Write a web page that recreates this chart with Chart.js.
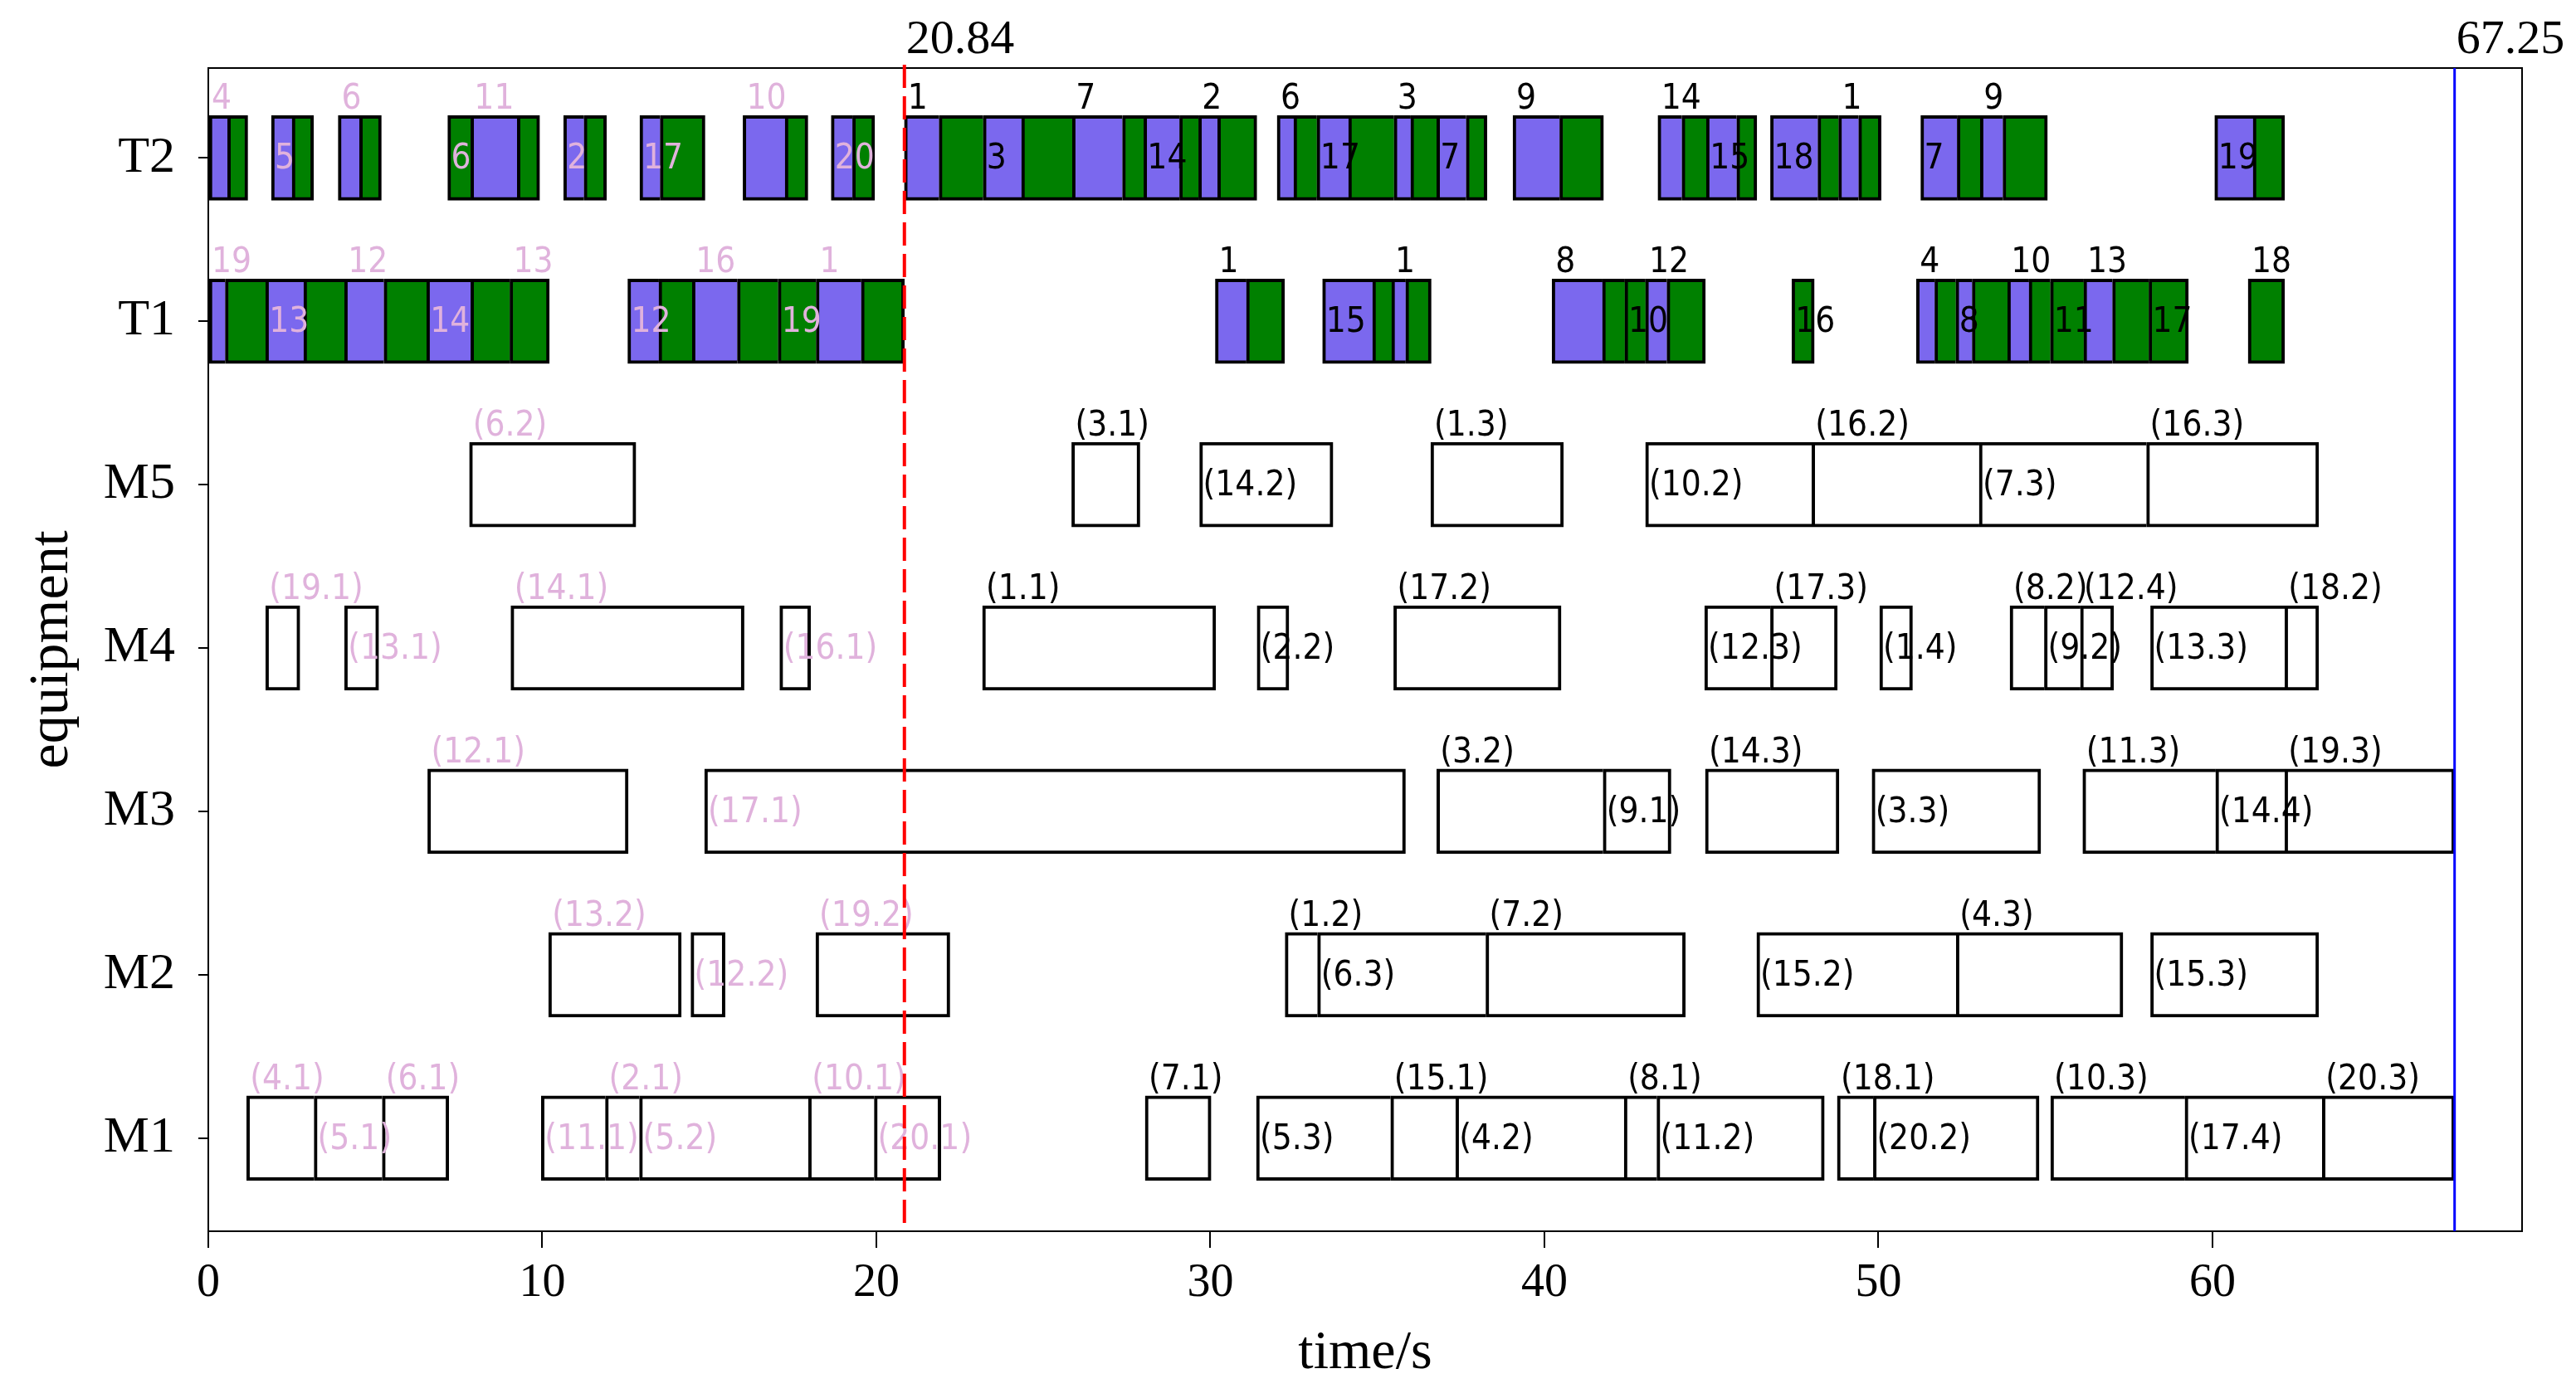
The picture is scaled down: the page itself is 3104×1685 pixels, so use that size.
<!DOCTYPE html>
<html>
<head>
<meta charset="utf-8">
<script src="https://cdn.jsdelivr.net/npm/chart.js@4.4.1/dist/chart.umd.min.js"></script>
<style>
  html, body { margin: 0; padding: 0; background: #fff; }
  canvas { display: block; }
</style>
</head>
<body>
<canvas id="c" width="3104" height="1685"></canvas>
<script>
// ---------------- DATA ----------------
const CUT = 20.84;        // rescheduling moment (red dashed line)
const MAKESPAN = 67.25;   // completion time (blue line)
const X_MAX = 69.27;
const rows = ['M1', 'M2', 'M3', 'M4', 'M5', 'T1', 'T2'];   // y index 0..6
const xTicks = [0, 10, 20, 30, 40, 50, 60];

// Transport rows: [start, end, kind]  P = loaded (purple), G = empty move (green)
const t2Bars = [
  [0, 0.58, 'P'], [0.58, 1.18, 'G'],
  [1.89, 2.51, 'P'], [2.51, 3.15, 'G'],
  [3.89, 4.53, 'P'], [4.53, 5.18, 'G'],
  [7.17, 7.86, 'G'], [7.86, 9.25, 'P'], [9.25, 9.92, 'G'],
  [10.64, 11.25, 'P'], [11.25, 11.92, 'G'],
  [12.92, 13.53, 'P'], [13.53, 14.87, 'G'],
  [16.01, 17.27, 'P'], [17.27, 17.95, 'G'],
  [18.65, 19.29, 'P'], [19.29, 19.95, 'G'],
  [20.84, 21.88, 'P'], [21.88, 23.20, 'G'], [23.20, 24.35, 'P'], [24.35, 25.87, 'G'],
  [25.87, 27.37, 'P'], [27.37, 28.01, 'G'], [28.01, 29.08, 'P'], [29.08, 29.65, 'G'],
  [29.65, 30.22, 'P'], [30.22, 31.39, 'G'],
  [32.00, 32.50, 'P'], [32.50, 33.19, 'G'], [33.19, 34.14, 'P'], [34.14, 35.50, 'G'],
  [35.50, 36.00, 'P'], [36.00, 36.78, 'G'], [36.78, 37.66, 'P'], [37.66, 38.28, 'G'],
  [39.06, 40.46, 'P'], [40.46, 41.77, 'G'],
  [43.40, 44.12, 'P'], [44.12, 44.85, 'G'], [44.85, 45.76, 'P'], [45.76, 46.36, 'G'],
  [46.77, 48.19, 'P'], [48.19, 48.81, 'G'], [48.81, 49.41, 'P'], [49.41, 50.08, 'G'],
  [51.27, 52.36, 'P'], [52.36, 53.05, 'G'], [53.05, 53.73, 'P'], [53.73, 55.06, 'G'],
  [60.07, 61.22, 'P'], [61.22, 62.16, 'G']
];
const t2TopTags = [[0, '4'], [3.89, '6'], [7.86, '11'], [16.01, '10'], [20.84, '1'], [25.87, '7'],
  [29.65, '2'], [32.00, '6'], [35.50, '3'], [39.06, '9'], [43.40, '14'], [48.81, '1'], [53.05, '9']];
const t2InTags = [[1.89, '5'], [7.17, '6'], [10.64, '2'], [12.92, '17'], [18.65, '20'], [23.20, '3'],
  [28.01, '14'], [33.19, '17'], [36.78, '7'], [44.85, '15'], [46.77, '18'], [51.27, '7'], [60.07, '19']];

const t1Bars = [
  [0, 0.51, 'P'], [0.51, 1.72, 'G'], [1.72, 2.86, 'P'], [2.86, 4.08, 'G'], [4.08, 5.26, 'P'],
  [5.26, 6.54, 'G'], [6.54, 7.86, 'P'], [7.86, 9.03, 'G'], [9.03, 10.21, 'G'],
  [12.56, 13.49, 'P'], [13.49, 14.49, 'G'], [14.49, 15.84, 'P'], [15.84, 17.06, 'G'],
  [17.06, 18.20, 'G'], [18.20, 19.55, 'P'], [19.55, 20.84, 'G'],
  [30.15, 31.08, 'P'], [31.08, 32.22, 'G'],
  [33.36, 34.86, 'P'], [34.86, 35.43, 'G'], [35.43, 35.85, 'P'], [35.85, 36.61, 'G'],
  [40.23, 41.74, 'P'], [41.74, 42.41, 'G'], [42.41, 43.03, 'G'], [43.03, 43.67, 'P'], [43.67, 44.82, 'G'],
  [47.41, 48.08, 'G'],
  [51.14, 51.69, 'P'], [51.69, 52.32, 'G'], [52.32, 52.81, 'P'], [52.81, 53.87, 'G'],
  [53.87, 54.51, 'P'], [54.51, 55.15, 'G'], [55.15, 56.15, 'G'], [56.15, 57.01, 'P'],
  [57.01, 58.10, 'G'], [58.10, 59.28, 'G'],
  [61.07, 62.16, 'G']
];
const t1TopTags = [[0, '19'], [4.08, '12'], [9.03, '13'], [14.49, '16'], [18.20, '1'], [30.15, '1'],
  [35.43, '1'], [40.23, '8'], [43.03, '12'], [51.14, '4'], [53.87, '10'], [56.15, '13'], [61.07, '18']];
const t1InTags = [[1.72, '13'], [6.54, '14'], [12.56, '12'], [17.06, '19'], [33.36, '15'],
  [42.41, '10'], [47.41, '16'], [52.32, '8'], [55.15, '11'], [58.10, '17']];

// Machine rows: [start, end, operation]
const m5Ops = [[7.82, 12.80, '(6.2)'], [25.85, 27.89, '(3.1)'], [29.68, 33.67, '(14.2)'],
  [36.60, 40.57, '(1.3)'], [43.03, 48.01, '(10.2)'], [48.01, 53.02, '(16.2)'],
  [53.02, 58.03, '(7.3)'], [58.03, 63.18, '(16.3)']];
const m5Inside = ['(14.2)', '(10.2)', '(7.3)'];

const m4Ops = [[1.72, 2.74, '(19.1)'], [4.08, 5.10, '(13.1)'], [9.06, 16.04, '(14.1)'],
  [17.11, 18.03, '(16.1)'], [23.18, 30.16, '(1.1)'], [31.40, 32.35, '(2.2)'],
  [35.49, 40.50, '(17.2)'], [44.80, 46.77, '(12.3)'], [46.77, 48.77, '(17.3)'],
  [50.04, 51.02, '(1.4)'], [53.94, 54.97, '(8.2)'], [54.97, 56.05, '(9.2)'],
  [56.05, 57.04, '(12.4)'], [58.15, 62.17, '(13.3)'], [62.17, 63.18, '(18.2)']];
const m4Inside = ['(13.1)', '(16.1)', '(2.2)', '(12.3)', '(1.4)', '(9.2)', '(13.3)'];

const m3Ops = [[6.57, 12.57, '(12.1)'], [14.86, 35.84, '(17.1)'], [36.78, 41.76, '(3.2)'],
  [41.76, 43.79, '(9.1)'], [44.82, 48.82, '(14.3)'], [49.81, 54.86, '(3.3)'],
  [56.12, 60.10, '(11.3)'], [60.10, 62.17, '(14.4)'], [62.17, 67.25, '(19.3)']];
const m3Inside = ['(17.1)', '(9.1)', '(3.3)', '(14.4)'];

const m2Ops = [[10.19, 14.16, '(13.2)'], [14.45, 15.47, '(12.2)'], [18.19, 22.20, '(19.2)'],
  [32.24, 33.21, '(1.2)'], [33.21, 38.25, '(6.3)'], [38.25, 44.22, '(7.2)'],
  [46.36, 52.33, '(15.2)'], [52.33, 57.32, '(4.3)'], [58.15, 63.18, '(15.3)']];
const m2Inside = ['(12.2)', '(6.3)', '(15.2)', '(15.3)'];

const m1Ops = [[1.15, 3.17, '(4.1)'], [3.17, 5.21, '(5.1)'], [5.21, 7.20, '(6.1)'],
  [9.97, 11.89, '(11.1)'], [11.89, 12.91, '(2.1)'], [12.91, 17.97, '(5.2)'],
  [17.97, 19.94, '(10.1)'], [19.94, 21.93, '(20.1)'], [28.05, 30.02, '(7.1)'],
  [31.38, 35.40, '(5.3)'], [35.40, 37.35, '(15.1)'], [37.35, 42.39, '(4.2)'],
  [42.39, 43.37, '(8.1)'], [43.37, 48.38, '(11.2)'], [48.77, 49.85, '(18.1)'],
  [49.85, 54.81, '(20.2)'], [55.16, 59.18, '(10.3)'], [59.18, 63.29, '(17.4)'],
  [63.29, 67.25, '(20.3)']];
const m1Inside = ['(5.1)', '(11.1)', '(5.2)', '(20.1)', '(5.3)', '(4.2)', '(11.2)', '(20.2)', '(17.4)'];

// ---------------- STYLE ----------------
const PURPLE = '#7b68ee';
const GREEN = '#008000';
const PINK = '#e0b2dc';
const BAR_PX = 102;
const BW = 4;
const LABEL_FONT = "'DejaVu Sans Condensed', 'Liberation Sans Narrow', 'DejaVu Sans', sans-serif";
const LABEL_SIZE = 42;
const SERIF = "'Liberation Serif', 'Times New Roman', serif";

// ---------------- BUILD ----------------
const rowIndex = name => rows.indexOf(name);
const bars = [];
t2Bars.forEach(([s, e, k]) => bars.push({ x: [s, e], y: rowIndex('T2'), k }));
t1Bars.forEach(([s, e, k]) => bars.push({ x: [s, e], y: rowIndex('T1'), k }));
const machineRows = [['M5', m5Ops, m5Inside], ['M4', m4Ops, m4Inside], ['M3', m3Ops, m3Inside],
  ['M2', m2Ops, m2Inside], ['M1', m1Ops, m1Inside]];
machineRows.forEach(([name, ops]) => ops.forEach(([s, e]) => bars.push({ x: [s, e], y: rowIndex(name), k: 'M' })));

const hasNext = b => bars.some(o => o.y === b.y && Math.abs(o.x[0] - b.x[1]) < 0.02);

const tags = []; // [t, row, text, inside]
t2TopTags.forEach(([t, s]) => tags.push([t, rowIndex('T2'), s, false]));
t2InTags.forEach(([t, s]) => tags.push([t, rowIndex('T2'), s, true]));
t1TopTags.forEach(([t, s]) => tags.push([t, rowIndex('T1'), s, false]));
t1InTags.forEach(([t, s]) => tags.push([t, rowIndex('T1'), s, true]));
machineRows.forEach(([name, ops, inside]) => ops.forEach(([s, e, lab]) =>
  tags.push([s, rowIndex(name), lab, inside.includes(lab)])));

const overlay = {
  id: 'overlay',
  afterDatasetsDraw(chart) {
    const { ctx, chartArea: a, scales: { x, y } } = chart;
    ctx.save();
    // operation / job tags
    ctx.font = `${LABEL_SIZE}px ${LABEL_FONT}`;
    ctx.textAlign = 'left';
    tags.forEach(([t, row, text, inside]) => {
      ctx.fillStyle = t < CUT - 0.005 ? PINK : '#000';
      const px = x.getPixelForValue(t) + 4;
      const cy = y.getPixelForValue(row);
      if (inside) { ctx.textBaseline = 'middle'; ctx.fillText(text, px, cy + 2); }
      else { ctx.textBaseline = 'alphabetic'; ctx.fillText(text, px, cy - BAR_PX / 2 - 8); }
    });
    // frame (top/right spines)
    ctx.strokeStyle = '#000';
    ctx.lineWidth = 2;
    ctx.strokeRect(a.left, a.top, a.right - a.left, a.bottom - a.top);
    // rescheduling line
    const xr = x.getPixelForValue(CUT);
    ctx.strokeStyle = '#ff0000';
    ctx.lineWidth = 4;
    ctx.setLineDash([28, 10]);
    ctx.beginPath(); ctx.moveTo(xr, a.top - 4); ctx.lineTo(xr, a.bottom); ctx.stroke();
    ctx.setLineDash([]);
    // makespan line
    const xb = x.getPixelForValue(MAKESPAN);
    ctx.strokeStyle = '#0000ff';
    ctx.lineWidth = 3;
    ctx.beginPath(); ctx.moveTo(xb, a.top); ctx.lineTo(xb, a.bottom); ctx.stroke();
    // annotations
    ctx.fillStyle = '#000';
    ctx.font = `58px ${SERIF}`;
    ctx.textBaseline = 'alphabetic';
    ctx.fillText(CUT.toFixed(2), xr + 2, a.top - 18);
    ctx.fillText(MAKESPAN.toFixed(2), xb + 2, a.top - 18);
    ctx.restore();
  }
};

new Chart(document.getElementById('c'), {
  type: 'bar',
  data: {
    datasets: [{
      data: bars,
      backgroundColor: c => c.raw ? (c.raw.k === 'P' ? PURPLE : c.raw.k === 'G' ? GREEN : '#ffffff') : '#fff',
      borderColor: '#000',
      borderWidth: c => c.raw ? ({ top: BW, bottom: BW, left: BW, right: hasNext(c.raw) ? 0 : BW }) : BW,
      borderSkipped: false,
      barThickness: BAR_PX
    }]
  },
  options: {
    indexAxis: 'y',
    responsive: false,
    animation: false,
    devicePixelRatio: 1,
    layout: { padding: { top: 82, right: 65, left: 0, bottom: 0 } },
    plugins: { legend: { display: false }, tooltip: { enabled: false } },
    scales: {
      x: {
        type: 'linear', min: 0, max: X_MAX, position: 'bottom', offset: false,
        afterBuildTicks: s => { s.ticks = xTicks.map(v => ({ value: v })); },
        ticks: { font: { family: SERIF, size: 56 }, color: '#000', padding: 10, maxRotation: 0, autoSkip: false },
        grid: { drawOnChartArea: false, drawTicks: true, tickLength: 20, color: '#000', lineWidth: 2, offset: false },
        border: { display: true, color: '#000', width: 2 },
        title: { display: true, text: 'time/s', font: { family: SERIF, size: 66 }, color: '#000', padding: { top: 14, bottom: 14 } },
        afterFit: s => { s.height = 201; }
      },
      y: {
        type: 'linear', min: -0.57, max: 6.55, offset: false,
        afterBuildTicks: s => { s.ticks = rows.map((_, i) => ({ value: i })); },
        ticks: { callback: v => rows[v], font: { family: SERIF, size: 62 }, color: '#000', padding: 28, autoSkip: false },
        grid: { drawOnChartArea: false, drawTicks: true, tickLength: 12, color: '#000', lineWidth: 2, offset: false },
        border: { display: true, color: '#000', width: 2 },
        title: { display: true, text: 'equipment', font: { family: SERIF, size: 68 }, color: '#000', padding: { top: 22, bottom: 0 } },
        afterFit: s => { s.width = 251; }
      }
    }
  },
  plugins: [overlay]
});
</script>
</body>
</html>
